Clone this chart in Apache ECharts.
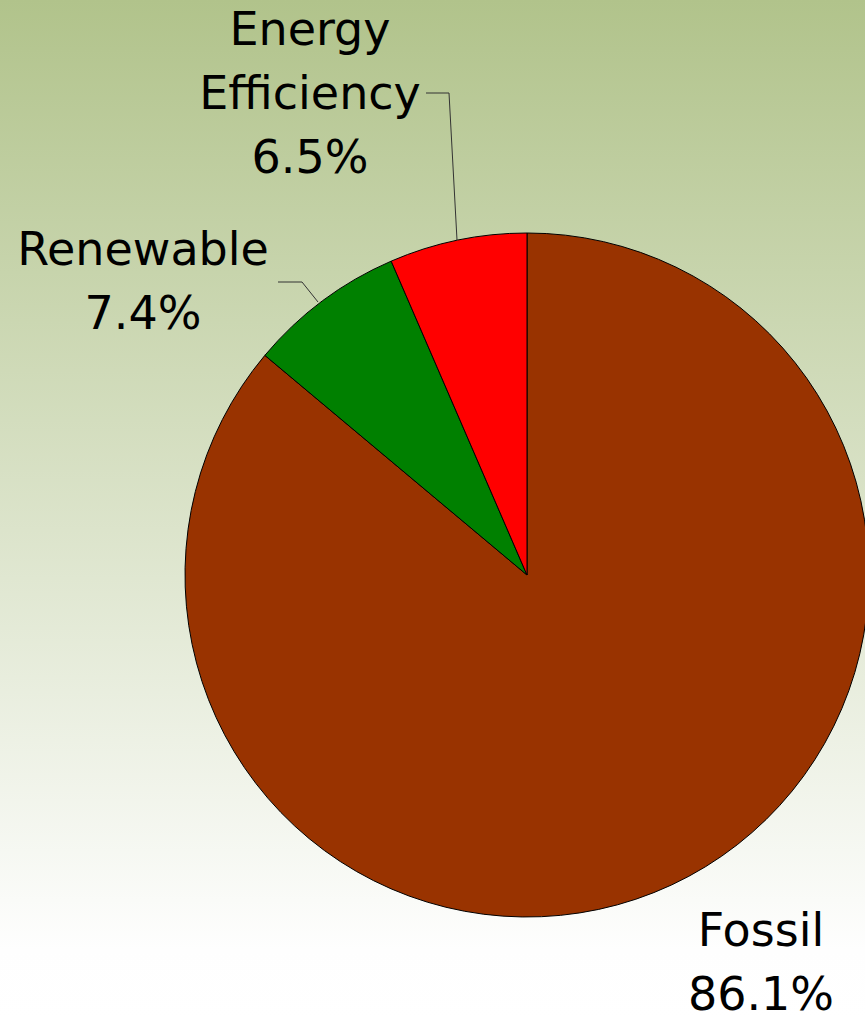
<!DOCTYPE html>
<html>
<head>
<meta charset="utf-8">
<script src="https://cdn.jsdelivr.net/npm/echarts@6/dist/echarts.min.js"></script>
<style>
html,body{margin:0;padding:0;width:865px;height:1021px;overflow:hidden;}
#chart{width:865px;height:1021px;}
</style>
</head>
<body>
<div id="chart"></div>
<script>
const categories = ['Fossil', 'Renewable', 'Energy Efficiency'];
const labelNames = ['Fossil', 'Renewable', 'Energy\nEfficiency'];
const shares = [86.1, 7.4, 6.5];
const sliceColors = ['#993300', '#008000', '#ff0000'];

// label placement (pixels) for each slice
const labelPos = [
  { x: 761, y: 962, line: null },
  { x: 143, y: 281, line: [[318, 302], [302, 282], [278, 282]] },
  { x: 310, y: 93, line: [[457, 240], [449, 93], [426, 93]] }
];

const chart = echarts.init(document.getElementById('chart'), null, { renderer: 'svg' });
chart.setOption({
  backgroundColor: {
    type: 'linear', x: 0, y: 0, x2: 0, y2: 1,
    colorStops: [
      { offset: 0, color: '#b1c38b' },
      { offset: 0.93, color: '#fefefe' },
      { offset: 1, color: '#ffffff' }
    ]
  },
  animation: false,
  series: [{
    type: 'pie',
    center: [527, 575],
    radius: 342,
    startAngle: 90,
    clockwise: true,
    avoidLabelOverlap: false,
    itemStyle: { borderColor: '#000', borderWidth: 1 },
    label: {
      show: true,
      fontFamily: 'DejaVu Sans, sans-serif',
      fontSize: 46,
      lineHeight: 64,
      color: '#000',
      align: 'center',
      formatter: p => labelNames[p.dataIndex] + '\n' + shares[p.dataIndex].toFixed(1) + '%'
    },
    labelLine: { show: true, lineStyle: { color: '#333', width: 1 } },
    labelLayout: function (params) {
      const lp = labelPos[params.dataIndex];
      const o = { x: lp.x, y: lp.y, align: 'center', verticalAlign: 'middle', hideOverlap: false };
      if (lp.line) o.labelLinePoints = lp.line;
      return o;
    },
    data: categories.map((c, i) => ({
      name: c,
      value: shares[i],
      itemStyle: { color: sliceColors[i] },
      labelLine: { show: !!labelPos[i].line }
    }))
  }]
});
</script>
</body>
</html>
